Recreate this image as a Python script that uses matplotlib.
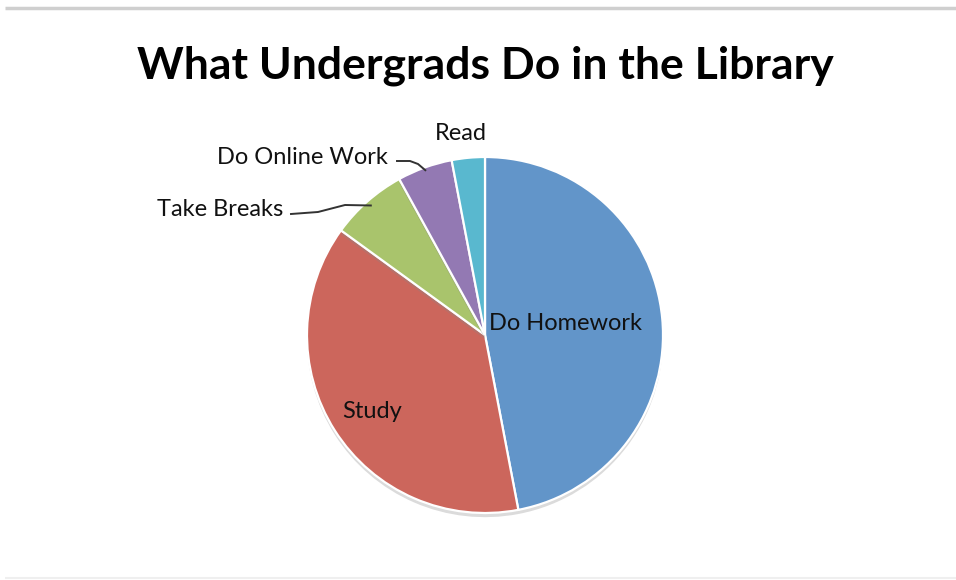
import matplotlib.pyplot as plt
import matplotlib.patheffects as pe
import numpy as np

title = "What Undergrads Do in the Library"
activities = ["Do Homework", "Study", "Take Breaks", "Do Online Work", "Read"]
shares = [47, 38, 7, 5, 3]
colors = ["#6295C9", "#CC665C", "#A9C46C", "#9379B3", "#59B8CF"]

W, H = 956, 580
fig = plt.figure(figsize=(W / 100, H / 100), dpi=100)
ax = fig.add_axes([0, 0, 1, 1])

cx, cy, r = 485, H - 335, 178

wedges, _ = ax.pie(shares, colors=colors, startangle=90, counterclock=False,
                   center=(cx, cy), radius=r, frame=True,
                   wedgeprops=dict(edgecolor="white", linewidth=1.6))
for w in wedges:
    w.set_path_effects([pe.SimplePatchShadow(offset=(0, -3), shadow_rgbFace="#888888", alpha=0.3),
                        pe.Normal()])
ax.set_xlim(0, W)
ax.set_ylim(0, H)
ax.axis("off")

# thin grey border lines of the screenshot
ax.plot([5, W], [H - 7.5, H - 7.5], color="#CFCFCF", lw=2.5, solid_capstyle="butt")
ax.plot([5, W], [H - 578, H - 578], color="#EFEFEF", lw=1.5, solid_capstyle="butt")

font = "Lato"
ax.text(cx, H - 66, title, ha="center", va="center", fontsize=32,
        fontweight="bold", family=font, color="black")

lab = dict(fontsize=17, family=font, color="#111111")

def edge_point(w, frac=1.0):
    a = np.deg2rad((w.theta1 + w.theta2) / 2)
    return cx + r * frac * np.cos(a), cy + r * frac * np.sin(a)

# inside labels
ax.text(489, H - 323, activities[0], ha="left", va="center", **lab)
ax.text(372, H - 411, activities[1], ha="center", va="center", **lab)

# outside labels with leader lines
ax.text(461, H - 133, activities[4], ha="center", va="center", **lab)

x, y = edge_point(wedges[3], 0.99)
ax.text(388, H - 158, activities[3], ha="right", va="center", **lab)
ax.plot([397, 410, 418, x], [H - 161, H - 161, H - 164, y - 1], color="#333333", lw=1.4)

x, y = edge_point(wedges[2], 0.97)
ax.text(283, H - 210, activities[2], ha="right", va="center", **lab)
ax.plot([291, 318, 345, x], [H - 214, H - 212, H - 205, y], color="#333333", lw=1.4)

fig.savefig("out.png", dpi=100, facecolor="white")
